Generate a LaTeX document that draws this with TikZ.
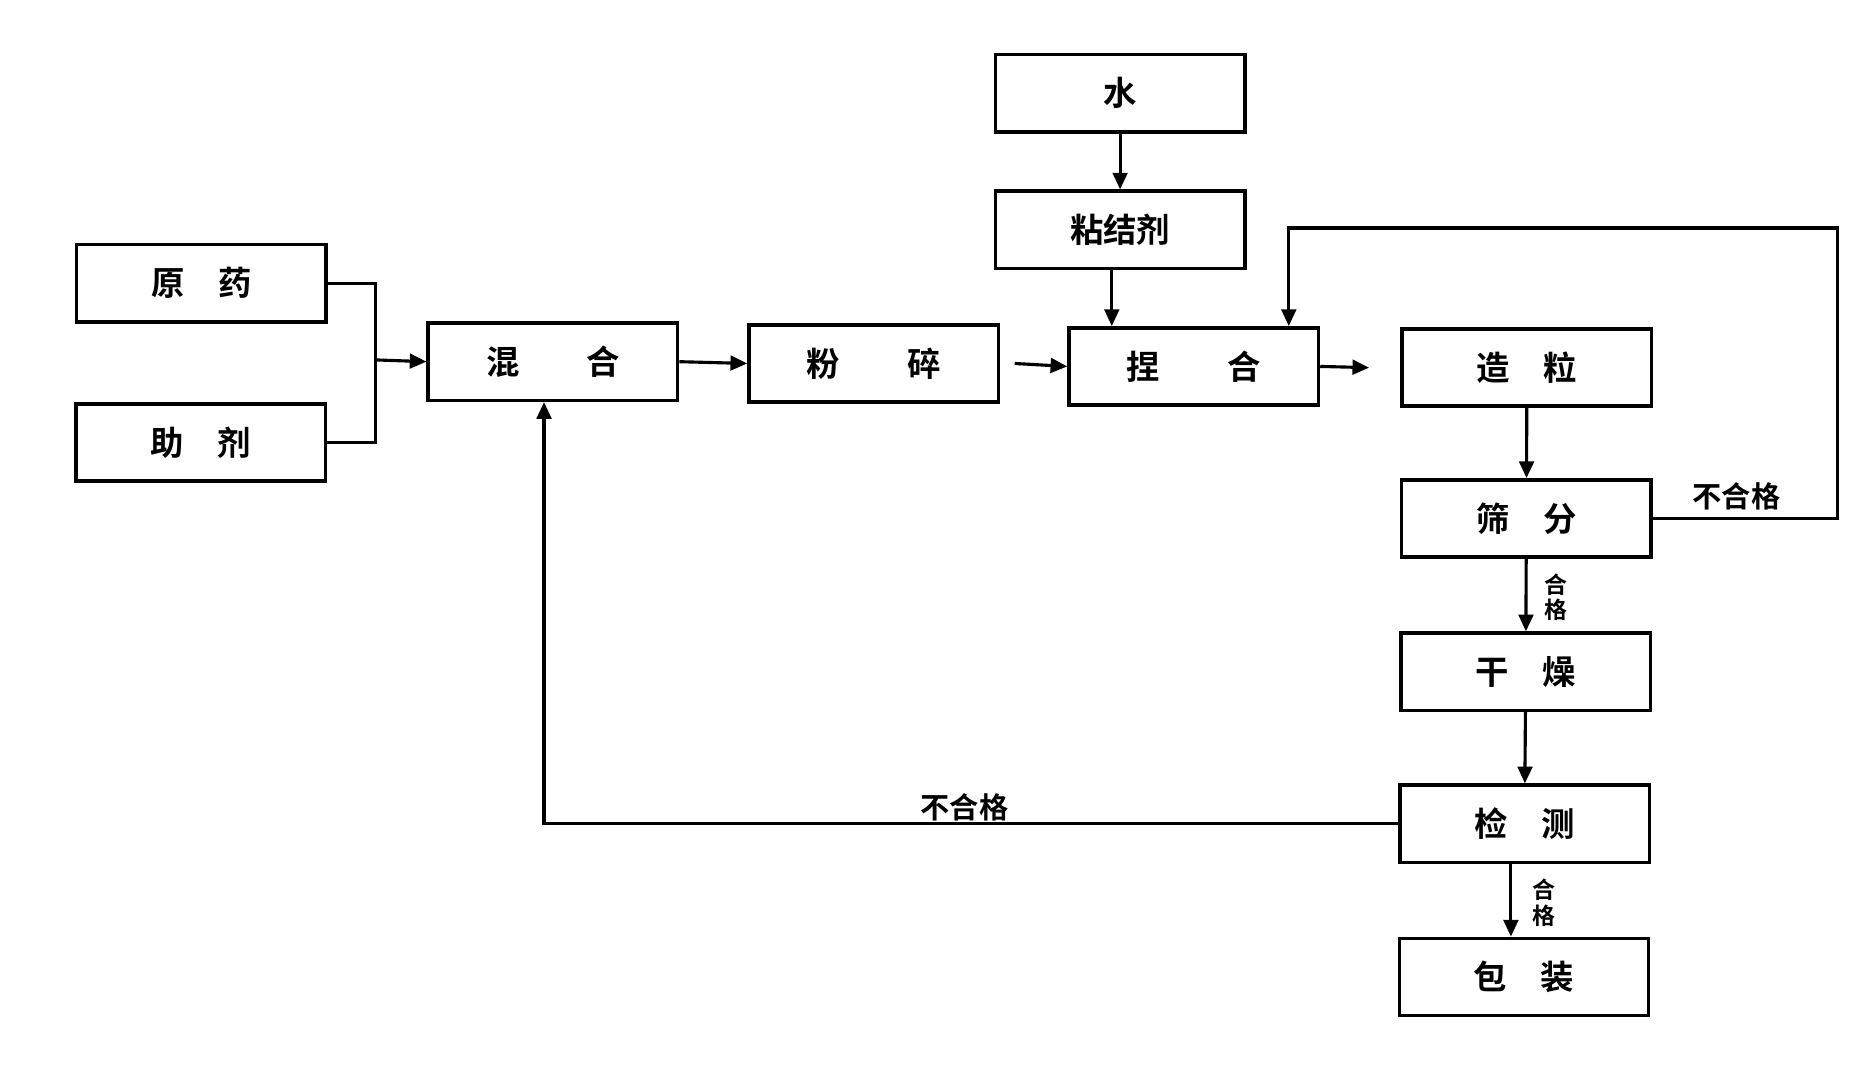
\documentclass[tikz,border=0pt]{standalone}
\usepackage{fontspec}
\setmainfont{Noto Sans CJK SC}[BoldFont={Noto Sans CJK SC Bold}]
\usetikzlibrary{arrows.meta}
\begin{document}
\begin{tikzpicture}[x=0.02cm,y=-0.02cm,
 box/.style={draw,line width=1.7pt,minimum width=4.2cm,minimum height=1.3cm,inner sep=0pt,font=\fontsize{16}{18}\selectfont\bfseries},
 ln/.style={line width=1.5pt},
 ar/.style={ln,-{Triangle[length=8pt,width=7pt]}},
 lab/.style={font=\fontsize{14}{15}\selectfont\bfseries,inner sep=0pt},
 slab/.style={font=\fontsize{11}{12}\selectfont\bfseries,inner sep=0pt,align=center}]
\useasboundingbox (0,0) rectangle (1560,902);
\node[box] (yy) at (169.5,238.5) {原\quad 药};
\node[box] (zj) at (169,372.5) {助\quad 剂};
\node[box] (hh) at (465.5,304.5) {混\qquad 合};
\node[box] (fs) at (735.5,306) {粉\qquad 碎};
\node[box] (sh) at (943,78.5) {水};
\node[box] (nj) at (943,193.5) {粘结剂};
\node[box] (nh) at (1005,308.5) {捏\qquad 合};
\node[box] (zl) at (1285.5,309.5) {造\quad 粒};
\node[box] (sf) at (1285,436.5) {筛\quad 分};
\node[box] (gz) at (1284.5,565.5) {干\quad 燥};
\node[box] (jc) at (1283.5,693.5) {检\quad 测};
\node[box] (bz) at (1283,822.5) {包\quad 装};
\coordinate (j) at (316,303);
\draw[ln] (yy.east) -| (j) |- (zj.east);
\draw[ar] (j) -- (hh.west);
\draw[ar] (hh.east) -- (fs.west);
\draw[ar] ([xshift=7]fs.east) -- (nh.west);
\draw[ar] (nh.east) -- ([xshift=-15]zl.west);
\draw[ar] (sh) -- (nj);
\draw[ar] (nj.south -| 936,0) -- (nh.north -| 936,0);
\draw[ar] (zl) -- (sf);
\draw[ar] (sf.east) -| (1547,192) -| (nh.north -| 1085,0);
\node[lab] at (1462,418) {不合格};
\draw[ar] (sf) -- (gz);
\node[slab] at (1310,503) {合\\格};
\draw[ar] (gz) -- (jc);
\draw[ar] (jc.west) -| (hh.south -| 458,0);
\node[lab] at (812,680) {不合格};
\draw[ar] (jc.south -| 1272,0) -- (bz.north -| 1272,0);
\node[slab] at (1300,760) {合\\格};
\end{tikzpicture}
\end{document}
